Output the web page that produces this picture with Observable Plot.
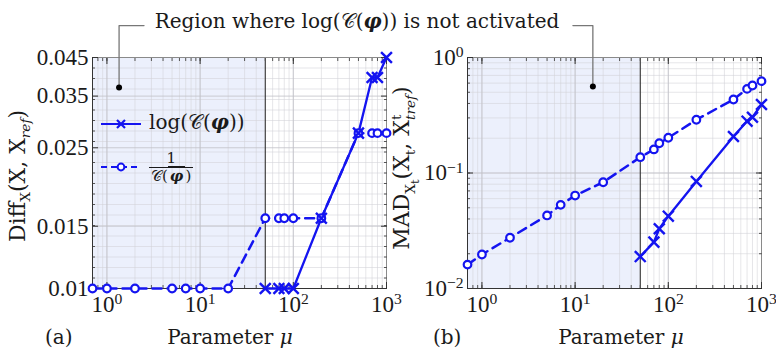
<!DOCTYPE html>
<html><head><meta charset="utf-8">
<script src="https://cdn.jsdelivr.net/npm/d3@7"></script>
<script src="https://cdn.jsdelivr.net/npm/@observablehq/plot@0.6"></script>
<style>
body{margin:0;background:#fff;}
#wrap{position:relative;width:776px;height:356px;font-family:"DejaVu Serif",serif;color:#1a1a1a;overflow:hidden;}
#wrap > svg{position:absolute;top:0;}
.abs{position:absolute;white-space:nowrap;line-height:1;}
.cal{font-family:"DejaVu Sans","DejaVu Serif",serif;}
.phi{font-weight:bold;font-style:italic;}
.rot{transform:translate(-50%,-50%) rotate(-90deg);}
.ss{display:inline-flex;flex-direction:column;vertical-align:middle;font-size:0.62em;line-height:1.05;}
.frac{display:inline-flex;flex-direction:column;align-items:stretch;text-align:center;vertical-align:middle;font-size:0.75em;line-height:1.1;}
.frac span:last-child{border-top:1px solid #1a1a1a;padding:0 2px;}
</style></head><body><div id="wrap"></div>
<script>
// ---- data ----
const mu = [0.7, 1, 2, 5, 7, 10, 20, 50, 70, 80, 100, 200, 500, 700, 800, 1000];
const muLog = [50, 70, 80, 100, 200, 500, 700, 800, 1000];
const diffInv = [0.01, 0.01, 0.01, 0.01, 0.01, 0.01, 0.01, 0.0158, 0.0158, 0.0158, 0.0158, 0.0158, 0.0275, 0.0275, 0.0275, 0.0275];
const diffLog = [0.01, 0.01, 0.01, 0.01, 0.0158, 0.0275, 0.0395, 0.0395, 0.045];
const madInv = [0.0161, 0.0197, 0.0275, 0.0429, 0.053, 0.0638, 0.0832, 0.137, 0.160, 0.181, 0.202, 0.289, 0.433, 0.535, 0.572, 0.624];
const madLog = [0.0189, 0.0252, 0.0329, 0.0423, 0.0845, 0.207, 0.281, 0.304, 0.392];
const activationLimit = 50;
const xDomain = [0.7, 1000];
const xTicks = [1, 10, 100, 1000];
const xTickLabels = ["10^0", "10^1", "10^2", "10^3"];
const yDomainLeft = [0.01, 0.045];
const yTicksLeft = [0.01, 0.015, 0.025, 0.035, 0.045];
const yTickLabelsLeft = ["0.01", "0.015", "0.025", "0.035", "0.045"];
const yDomainRight = [0.01, 1];
const yTicksRight = [0.01, 0.1, 1];
const yTickLabelsRight = ["10^−2", "10^−1", "10^0"];
// annotation anchor points (data space): dot, elbow, end
const annotLeft = [[1.35, 0.037], [1.35, 0.0554], [2.5, 0.0554]];
const annotRight = [[15.5, 0.56], [15.5, 1.89], [9.47, 1.89]];

const blue = "#1414f0";
const tickFont = "Liberation Serif, serif";
const xMinor = d3.scaleLog().domain(xDomain).ticks();
const yMinorRight = d3.scaleLog().domain(yDomainRight).ticks();
const yMinorLeft = d3.range(0, 23).map(k => yDomainLeft[0] * Math.pow(yDomainLeft[1] / yDomainLeft[0], k / 22));

function lab(ticks, labels) { return d => labels[ticks.indexOf(d)]; }

function panel(o) {
  const invData = mu.map((m, i) => ({m, v: o.inv[i]}));
  const logData = muLog.map((m, i) => ({m, v: o.logv[i]}));
  const annot = o.annot.map(([m, v]) => ({m, v}));
  const none = () => "";
  const svg = Plot.plot({
    width: o.width, height: 356,
    marginLeft: o.marginLeft, marginRight: o.marginRight, marginTop: 57, marginBottom: 68,
    style: {fontFamily: "DejaVu Serif, serif", fontSize: "19px", color: "#1a1a1a", background: "transparent", overflow: "visible"},
    x: {type: "log", domain: xDomain, label: null},
    y: {type: "log", domain: o.yDomain, label: null},
    marks: [
      Plot.rect([{a: xDomain[0], b: activationLimit, lo: o.yDomain[0], hi: o.yDomain[1]}], {x1: "a", x2: "b", y1: "lo", y2: "hi", fill: "#ecf0fc"}),
      Plot.gridX(xMinor, {stroke: "#d2d2d8", strokeOpacity: 0.7, strokeWidth: 0.8}),
      Plot.gridY(o.yMinor, {stroke: "#d2d2d8", strokeOpacity: 0.7, strokeWidth: 0.8}),
      Plot.gridX(xTicks, {stroke: "#c0c0c6", strokeOpacity: 1, strokeWidth: 0.8}),
      Plot.gridY(o.yTicks, {stroke: "#c0c0c6", strokeOpacity: 1, strokeWidth: 0.8}),
      Plot.ruleX([activationLimit], {stroke: "#222", strokeWidth: 1}),
      Plot.frame({stroke: "#8a8a8a"}),
      Plot.axisX(xMinor, {anchor: "bottom", tickSize: -3, tickFormat: none, stroke: "#555"}),
      Plot.axisX(xMinor, {anchor: "top", tickSize: -3, tickFormat: none, stroke: "#555"}),
      Plot.axisY(o.yMinor, {anchor: "left", tickSize: -3, tickFormat: none, stroke: "#555"}),
      Plot.axisY(o.yMinor, {anchor: "right", tickSize: -3, tickFormat: none, stroke: "#555"}),
      Plot.axisX(xTicks, {anchor: "bottom", tickSize: -6, tickFormat: none, stroke: "#333"}),
      Plot.axisX(xTicks, {anchor: "top", tickSize: -6, tickFormat: none, stroke: "#333"}),
      Plot.axisY(o.yTicks, {anchor: "left", tickSize: -6, tickFormat: none, stroke: "#333"}),
      Plot.axisY(o.yTicks, {anchor: "right", tickSize: -6, tickFormat: none, stroke: "#333"}),
      Plot.axisX(xTicks, {anchor: "bottom", tickSize: 0, tickPadding: 7, tickFormat: lab(xTicks, xTickLabels), fontSize: 23, fontFamily: tickFont, fill: "#1a1a1a", label: null}),
      Plot.axisY(o.yTicks, {anchor: "left", tickSize: 0, tickPadding: 4, tickFormat: lab(o.yTicks, o.yLabels), fontSize: 23, fontFamily: tickFont, fill: "#1a1a1a", label: null}),
      Plot.ruleX([xDomain[0]], {stroke: "#333", strokeWidth: 1}),
      Plot.ruleY([o.yDomain[0]], {stroke: "#333", strokeWidth: 1}),
      Plot.line(invData, {x: "m", y: "v", stroke: blue, strokeWidth: 2.5, strokeDasharray: "9,6"}),
      Plot.line(logData, {x: "m", y: "v", stroke: blue, strokeWidth: 2.3}),
      Plot.dot(invData, {x: "m", y: "v", symbol: "circle", r: 3.8, stroke: blue, strokeWidth: 2.2, fill: "white"}),
      Plot.dot(logData, {x: "m", y: "v", symbol: "times", r: 5, stroke: blue, strokeWidth: 2.4}),
      Plot.line(annot, {x: "m", y: "v", stroke: "#777", strokeWidth: 1.3}),
      Plot.dot(annot.slice(0, 1), {x: "m", y: "v", r: 3, fill: "black"})
    ]
  });
  // LaTeX-like superscripts in tick labels
  d3.select(svg).selectAll('g[aria-label$="tick label"] text').each(function () {
    const t = this.textContent;
    if (t.includes("^")) {
      const [base, exp] = t.split("^");
      const sel = d3.select(this);
      sel.text(base);
      sel.append("tspan").attr("dy", "-0.48em").attr("font-size", "0.68em").text(exp);
    }
  });
  svg.style.left = o.left + "px";
  return svg;
}

const wrap = document.getElementById("wrap");
const svgs = [
  panel({left: 0, width: 390, marginLeft: 92, marginRight: 4, yDomain: yDomainLeft, yTicks: yTicksLeft, yLabels: yTickLabelsLeft, yMinor: yMinorLeft, inv: diffInv, logv: diffLog, annot: annotLeft}),
  panel({left: 390, width: 386, marginLeft: 77, marginRight: 15, yDomain: yDomainRight, yTicks: yTicksRight, yLabels: yTickLabelsRight, yMinor: yMinorRight, inv: madInv, logv: madLog, annot: annotRight})
];
svgs.forEach(s => wrap.appendChild(s));
// keep x tick labels inside the page (as the reference does for 10^3)
svgs.forEach(s => {
  const W = +s.getAttribute("width");
  d3.select(s).selectAll('g[aria-label="x-axis tick label"] text').each(function () {
    const b = this.getBBox();
    const over = b.x + b.width - (W - 1);
    if (over > 0) d3.select(this).attr("dx", -over);
  });
});

function addHTML(html, style, cls = "abs") {
  const d = document.createElement("div");
  d.className = cls;
  d.innerHTML = html;
  Object.assign(d.style, style);
  wrap.appendChild(d);
  return d;
}
const C = '<span class="cal">𝒞</span>';
const PHI = '<span class="phi">φ</span>';
addHTML(`Region where log(${C}(${PHI})) is not activated`, {left: "357px", top: "11px", fontSize: "20px", transform: "translateX(-50%)"});
addHTML(`Diff<sub style="font-size:0.62em">X</sub>(X, X<sub style="font-size:0.62em"><i>ref</i></sub>)`, {left: "20px", top: "176px", fontSize: "22px"}, "abs rot");
addHTML(`MAD<sub style="font-size:0.62em">X<sub>t</sub></sub>(X<sub style="font-size:0.62em">t</sub>, X<span class="ss"><span>t</span><span><i>tref</i></span></span>)`, {left: "405px", top: "168px", fontSize: "22px"}, "abs rot");
addHTML(`Parameter <i>μ</i>`, {left: "230px", top: "327px", fontSize: "20px", transform: "translateX(-50%)"});
addHTML(`Parameter <i>μ</i>`, {left: "621px", top: "327px", fontSize: "20px", transform: "translateX(-50%)"});
addHTML(`(a)`, {left: "45px", top: "327px", fontSize: "20px"});
addHTML(`(b)`, {left: "433px", top: "327px", fontSize: "20px"});
// legend
const sw1 = `<svg width="40" height="14" style="vertical-align:middle"><line x1="0" x2="40" y1="7" y2="7" stroke="${blue}" stroke-width="2"/><path d="M16,3L24,11M24,3L16,11" stroke="${blue}" stroke-width="2.2"/></svg>`;
const sw2 = `<svg width="40" height="14" style="vertical-align:middle"><line x1="0" x2="40" y1="7" y2="7" stroke="${blue}" stroke-width="2" stroke-dasharray="6,4"/><circle cx="20" cy="7" r="3.4" fill="white" stroke="${blue}" stroke-width="2"/></svg>`;
addHTML(`${sw1}<span style="margin-left:8px">log(${C}(${PHI}))</span>`, {left: "101px", top: "112px", fontSize: "20px"});
addHTML(`${sw2}<span style="margin-left:8px" class="frac"><span>1</span><span>${C}(${PHI})</span></span>`, {left: "101px", top: "150px", fontSize: "20px"});
</script></body></html>
